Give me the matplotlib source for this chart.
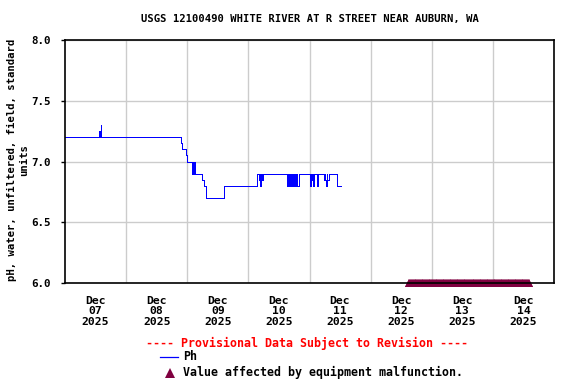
import matplotlib
matplotlib.use("Agg")
import matplotlib.pyplot as plt
import matplotlib.dates as mdates
from matplotlib.lines import Line2D
import pandas as pd

# ---- data ----
ph_times = [
    "2025-12-07 00:00", "2025-12-07 13:30", "2025-12-07 13:45", "2025-12-07 14:00",
    "2025-12-07 14:15", "2025-12-08 21:30", "2025-12-08 21:45", "2025-12-08 23:30",
    "2025-12-09 00:00", "2025-12-09 01:45", "2025-12-09 02:00", "2025-12-09 02:15",
    "2025-12-09 02:30", "2025-12-09 03:00", "2025-12-09 05:45", "2025-12-09 06:45",
    "2025-12-09 07:15", "2025-12-09 14:15", "2025-12-09 14:30", "2025-12-10 03:30",
    "2025-12-10 04:00", "2025-12-10 04:15", "2025-12-10 04:45", "2025-12-10 05:00",
    "2025-12-10 05:30", "2025-12-10 05:45", "2025-12-10 15:15", "2025-12-10 15:30",
    "2025-12-10 15:45", "2025-12-10 16:00", "2025-12-10 16:30", "2025-12-10 16:45",
    "2025-12-10 17:15", "2025-12-10 17:30", "2025-12-10 18:00", "2025-12-10 18:15",
    "2025-12-10 18:30", "2025-12-10 18:45", "2025-12-10 19:15", "2025-12-10 19:45",
    "2025-12-11 00:00", "2025-12-11 00:30", "2025-12-11 01:00", "2025-12-11 01:15",
    "2025-12-11 01:30", "2025-12-11 01:45", "2025-12-11 02:45", "2025-12-11 03:15",
    "2025-12-11 05:45", "2025-12-11 06:00", "2025-12-11 06:15", "2025-12-11 06:30",
    "2025-12-11 06:45", "2025-12-11 07:00", "2025-12-11 07:30", "2025-12-11 10:45",
    "2025-12-11 12:15",
]
ph_values = [
    7.2, 7.25, 7.2, 7.3,
    7.2, 7.15, 7.1, 7.05,
    7.0, 6.9, 7.0, 6.9,
    7.0, 6.9, 6.85, 6.8,
    6.7, 6.75, 6.8, 6.9,
    6.85, 6.9, 6.8, 6.9,
    6.85, 6.9, 6.8, 6.9,
    6.8, 6.9, 6.8, 6.9,
    6.8, 6.9, 6.8, 6.9,
    6.8, 6.9, 6.8, 6.9,
    6.8, 6.9, 6.85, 6.9,
    6.8, 6.9, 6.8, 6.9,
    6.85, 6.9, 6.85, 6.8,
    6.9, 6.85, 6.9, 6.8,
    6.8,
]
malfunction_start = "2025-12-12 15:00"
malfunction_end = "2025-12-14 14:15"
malfunction_value = 6.0

x_start = "2025-12-07"
x_end = "2025-12-15"
day_labels = ["Dec\n07\n2025", "Dec\n08\n2025", "Dec\n09\n2025", "Dec\n10\n2025",
              "Dec\n11\n2025", "Dec\n12\n2025", "Dec\n13\n2025", "Dec\n14\n2025"]
y_ticks = [6.0, 6.5, 7.0, 7.5, 8.0]
y_tick_labels = ["6.0", "6.5", "7.0", "7.5", "8.0"]

title = "USGS 12100490 WHITE RIVER AT R STREET NEAR AUBURN, WA"
ylabel = "pH, water, unfiltered, field, standard\nunits"

# ---- styling ----
plt.rcParams['font.family'] = ['DejaVu Sans Mono']
plt.rcParams['font.weight'] = 'bold'

W, H = 576, 384
fig = plt.figure(figsize=(W / 100, H / 100), dpi=100)
ax = fig.add_axes([65 / W, 1 - 283 / H, (554 - 65) / W, (283 - 40) / H])

t = pd.to_datetime(ph_times)
ax.plot(t, ph_values, color="#0000ff", lw=0.7, drawstyle="steps-post",
        antialiased=False, zorder=3)

mt = pd.date_range(malfunction_start, malfunction_end, freq="15min")
ax.plot(mt, [malfunction_value] * len(mt), ls="none", marker="^", ms=6.2,
        mfc="#800040", mew=0, clip_on=False, zorder=4)

ax.set_xlim(pd.Timestamp(x_start), pd.Timestamp(x_end))
ax.set_ylim(6.0, 8.0)

days = pd.date_range(x_start, x_end, freq="D")
noons = days[:-1] + pd.Timedelta(hours=12)
ax.set_xticks(noons)
ax.set_xticklabels(day_labels, fontsize=8.2, fontweight="bold", linespacing=1.1)
ax.set_xticks(days[1:-1], minor=True)
ax.tick_params(axis="x", which="both", length=0, pad=9)
ax.set_yticks(y_ticks)
ax.set_yticklabels(y_tick_labels, fontsize=7.8, fontweight="bold")
ax.tick_params(axis="y", length=3, width=1, pad=7)

ax.grid(True, which="minor", axis="x", color="#cccccc", lw=1)
ax.grid(True, which="major", axis="y", color="#cccccc", lw=1)
ax.set_axisbelow(True)
for s in ax.spines.values():
    s.set_linewidth(1.2)
    s.set_zorder(5)

fig.text(309.5 / W, 1 - 19 / H, title, ha="center", va="center",
         fontsize=7.6, fontweight="bold")
fig.text(18 / W, 1 - 160 / H, ylabel, ha="center", va="center", rotation=90,
         multialignment="center", fontsize=7.7, fontweight="bold", linespacing=1.2)

# legend
fig.text(307 / W, 1 - 343 / H, "---- Provisional Data Subject to Revision ----",
         ha="center", va="center", color="#ff0000", fontsize=8.4, fontweight="bold")
fig.add_artist(Line2D([160 / W, 178 / W], [1 - 356.5 / H, 1 - 356.5 / H],
                      color="#0000ff", lw=0.9, transform=fig.transFigure))
fig.text(183 / W, 1 - 356.5 / H, "Ph", ha="left", va="center",
         fontsize=8.4, fontweight="bold")
fig.add_artist(Line2D([169.5 / W], [1 - 372.5 / H], ls="none", marker="^", ms=7,
                      mfc="#800040", mew=0, transform=fig.transFigure))
fig.text(183 / W, 1 - 372.5 / H, "Value affected by equipment malfunction.",
         ha="left", va="center", fontsize=8.4, fontweight="bold")

fig.savefig("out.png", dpi=100)
